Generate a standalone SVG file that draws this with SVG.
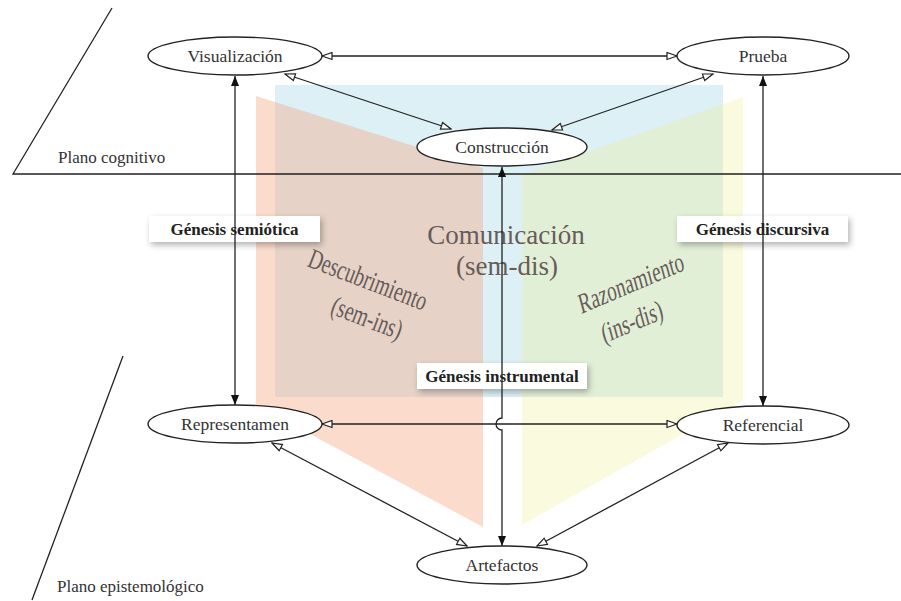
<svg xmlns="http://www.w3.org/2000/svg" width="901" height="601" viewBox="0 0 901 601">
<style>
.ln{fill:none;stroke:#222;stroke-width:1.3}
.nd ellipse{fill:#fff;stroke:#222;stroke-width:1.4}
.nd text{font-family:"Liberation Serif",serif;font-size:17.5px;fill:#333;text-anchor:middle}
.lbl rect{fill:#fff;filter:url(#sh)}
.lbl text{font-family:"Liberation Serif",serif;font-size:17px;font-weight:bold;fill:#222;text-anchor:middle}
.pl{font-family:"Liberation Serif",serif;font-size:17px;fill:#333}
.big{font-family:"Liberation Serif",serif;fill:#675c58;text-anchor:middle}
</style>
<defs>
<filter id="sh" x="-20%" y="-50%" width="140%" height="220%">
<feDropShadow dx="2" dy="3" stdDeviation="3" flood-color="#000" flood-opacity="0.3"/>
</filter>
<marker id="fa" viewBox="0 0 10 8" refX="10" refY="4" markerWidth="10" markerHeight="8" markerUnits="userSpaceOnUse" orient="auto-start-reverse">
<path d="M0,0 L10,4 L0,8 Z" fill="#111"/>
</marker>
<marker id="oa" viewBox="0 0 12 9" refX="11" refY="4.5" markerWidth="12" markerHeight="9" markerUnits="userSpaceOnUse" orient="auto-start-reverse">
<path d="M1,1 L11,4.5 L1,8 Z" fill="#fff" stroke="#222" stroke-width="1.2"/>
</marker>
</defs>
<rect width="901" height="601" fill="#fff"/>
<g id="background">
<rect x="275" y="85" width="448" height="312" fill="#dcf0f5"/>
<polygon points="256,96 483,168 483,527 256,405" fill="#f5a580" fill-opacity="0.4"/>
<polygon points="522,175 743,97 743,400 522,525" fill="#efef96" fill-opacity="0.31"/>
</g>
<g id="planes">
<polyline class="ln" points="112,8 13,174 901,174"/>
<line class="ln" x1="123" y1="356" x2="32" y2="600"/>
<text class="pl" x="58" y="163">Plano cognitivo</text>
<text class="pl" x="57" y="592">Plano epistemológico</text>
</g>
<g id="big-labels">
<text class="big" x="506" y="244" font-size="27">Comunicación</text>
<text class="big" x="507" y="275" font-size="27">(sem-dis)</text>
<g transform="translate(368,280) rotate(21) scale(0.7,1)"><text class="big" x="0" y="9" font-size="28">Descubrimiento</text></g>
<g transform="translate(367,318) rotate(21) scale(0.7,1)"><text class="big" x="0" y="9" font-size="28">(sem-ins)</text></g>
<g transform="translate(631,283) rotate(-23) skewX(-8) scale(0.7,1)"><text class="big" x="0" y="9" font-size="28">Razonamiento</text></g>
<g transform="translate(632,322) rotate(-23) skewX(-8) scale(0.7,1)"><text class="big" x="0" y="9" font-size="28">(ins-dis)</text></g>
</g>
<g id="label-semiotica" class="lbl"><rect x="149" y="216" width="171" height="26"/><text x="234.5" y="235">Génesis semiótica</text></g>
<g id="label-discursiva" class="lbl"><rect x="677" y="216" width="171" height="26"/><text x="762.5" y="235">Génesis discursiva</text></g>
<g id="label-instrumental" class="lbl"><rect x="417" y="363" width="170" height="26"/><text x="502" y="382">Génesis instrumental</text></g>
<g id="connectors">
<line class="ln" x1="322" y1="56" x2="677" y2="56" marker-start="url(#oa)" marker-end="url(#oa)"/>
<line class="ln" x1="285" y1="74" x2="451" y2="129" marker-start="url(#oa)" marker-end="url(#oa)"/>
<line class="ln" x1="713" y1="74" x2="552" y2="130" marker-start="url(#oa)" marker-end="url(#oa)"/>
<line class="ln" x1="235" y1="76" x2="235" y2="405" marker-start="url(#fa)" marker-end="url(#fa)"/>
<line class="ln" x1="763" y1="76" x2="763" y2="406" marker-start="url(#fa)" marker-end="url(#fa)"/>
<path class="ln" d="M502,167 V418 A6,6 0 0 0 502,430 V546" marker-start="url(#fa)" marker-end="url(#fa)"/>
<line class="ln" x1="322" y1="424" x2="677" y2="424" marker-start="url(#oa)" marker-end="url(#oa)"/>
<line class="ln" x1="272" y1="443" x2="467" y2="546" marker-start="url(#oa)" marker-end="url(#oa)"/>
<line class="ln" x1="728" y1="443" x2="537" y2="546" marker-start="url(#oa)" marker-end="url(#oa)"/>
</g>
<g id="node-visualizacion" class="nd"><ellipse cx="235" cy="56" rx="87" ry="19"/><text x="235" y="62">Visualización</text></g>
<g id="node-prueba" class="nd"><ellipse cx="763" cy="56" rx="86" ry="19"/><text x="763" y="62">Prueba</text></g>
<g id="node-construccion" class="nd"><ellipse cx="502" cy="147" rx="85" ry="19"/><text x="502" y="153">Construcción</text></g>
<g id="node-representamen" class="nd"><ellipse cx="235" cy="424" rx="87" ry="19"/><text x="235" y="430">Representamen</text></g>
<g id="node-referencial" class="nd"><ellipse cx="763" cy="425" rx="86" ry="19"/><text x="763" y="431">Referencial</text></g>
<g id="node-artefactos" class="nd"><ellipse cx="502" cy="565" rx="85" ry="19"/><text x="502" y="571">Artefactos</text></g>
</svg>
